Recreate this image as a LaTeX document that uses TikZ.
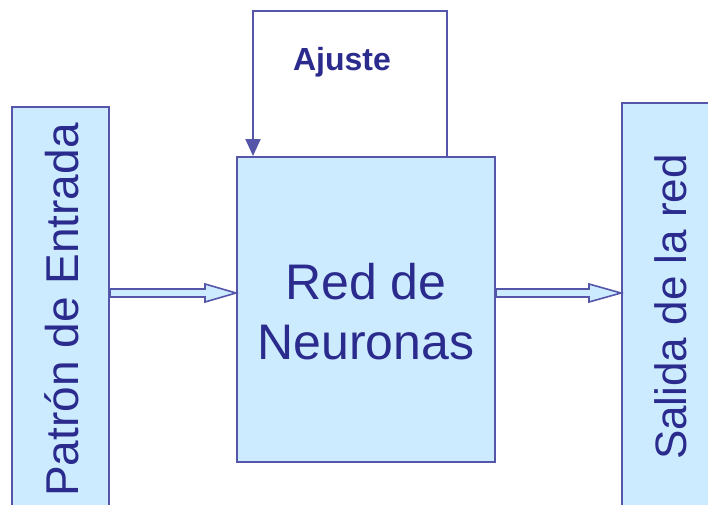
\documentclass[tikz,border=0pt]{standalone}
\usepackage{fontspec}
\setmainfont{Liberation Sans}
\usetikzlibrary{calc,arrows.meta}
\definecolor{boxfill}{HTML}{CCEBFF}
\definecolor{boxline}{HTML}{5555AA}
\definecolor{ink}{HTML}{2B2B8E}
\tikzset{
  block/.style={draw=boxline, fill=boxfill, line width=2pt, inner sep=0pt},
  bigtext/.style={text=ink, font=\fontsize{46}{52}\selectfont},
  feed/.style={draw=boxline, line width=2pt, -{Triangle[length=17pt,width=15pt]}},
  hollow/.style={draw=boxline, fill=boxfill, line width=1.6pt, line join=miter}
}
% hollow block arrow between two x positions at the height of coordinate #3
\newcommand{\hollowarrow}[4]{%
  \draw[hollow] ($(#1 |- #3)+(0,-4)$) -- ($(#2 |- #3)+(-#4,-4)$) -- ($(#2 |- #3)+(-#4,-9)$)
    -- (#2 |- #3) -- ($(#2 |- #3)+(-#4,9)$) -- ($(#2 |- #3)+(-#4,4)$)
    -- ($(#1 |- #3)+(0,4)$) -- cycle;}
\begin{document}
\begin{tikzpicture}[x=1pt,y=-1pt]
\useasboundingbox (0,0) rectangle (708,504);
% input, network and output blocks
\node[block, minimum width=97pt, minimum height=420pt] (pat) at (60.5,317) {};
\node[block, minimum width=258pt, minimum height=305pt] (red) at (366,309.5) {};
\node[block, minimum width=100pt, minimum height=420pt] (sal) at (672,313) {};
\node[bigtext, rotate=90] (patt) at (62,310) {Patrón de Entrada};
\node[bigtext, rotate=90, font=\fontsize{44}{50}\selectfont] (salt) at (671,307) {Salida de la red};
\node[bigtext, align=center, font=\fontsize{50}{60}\selectfont] (redt) at (366,312) {Red de\\Neuronas};
% feedback loop
\coordinate (lr) at (447,11);
\coordinate (ll) at (253,11);
\draw[feed] (red.north -| lr) -- (lr) -- (ll) -- (red.north -| ll);
\node[text=ink, font=\bfseries\fontsize{32}{36}\selectfont] (aj) at (342,62) {Ajuste};
% data flow arrows
\coordinate (flow) at (0,293);
\hollowarrow{pat.east}{red.west}{flow}{31}
\hollowarrow{red.east}{sal.west}{flow}{32}
\end{tikzpicture}
\end{document}
